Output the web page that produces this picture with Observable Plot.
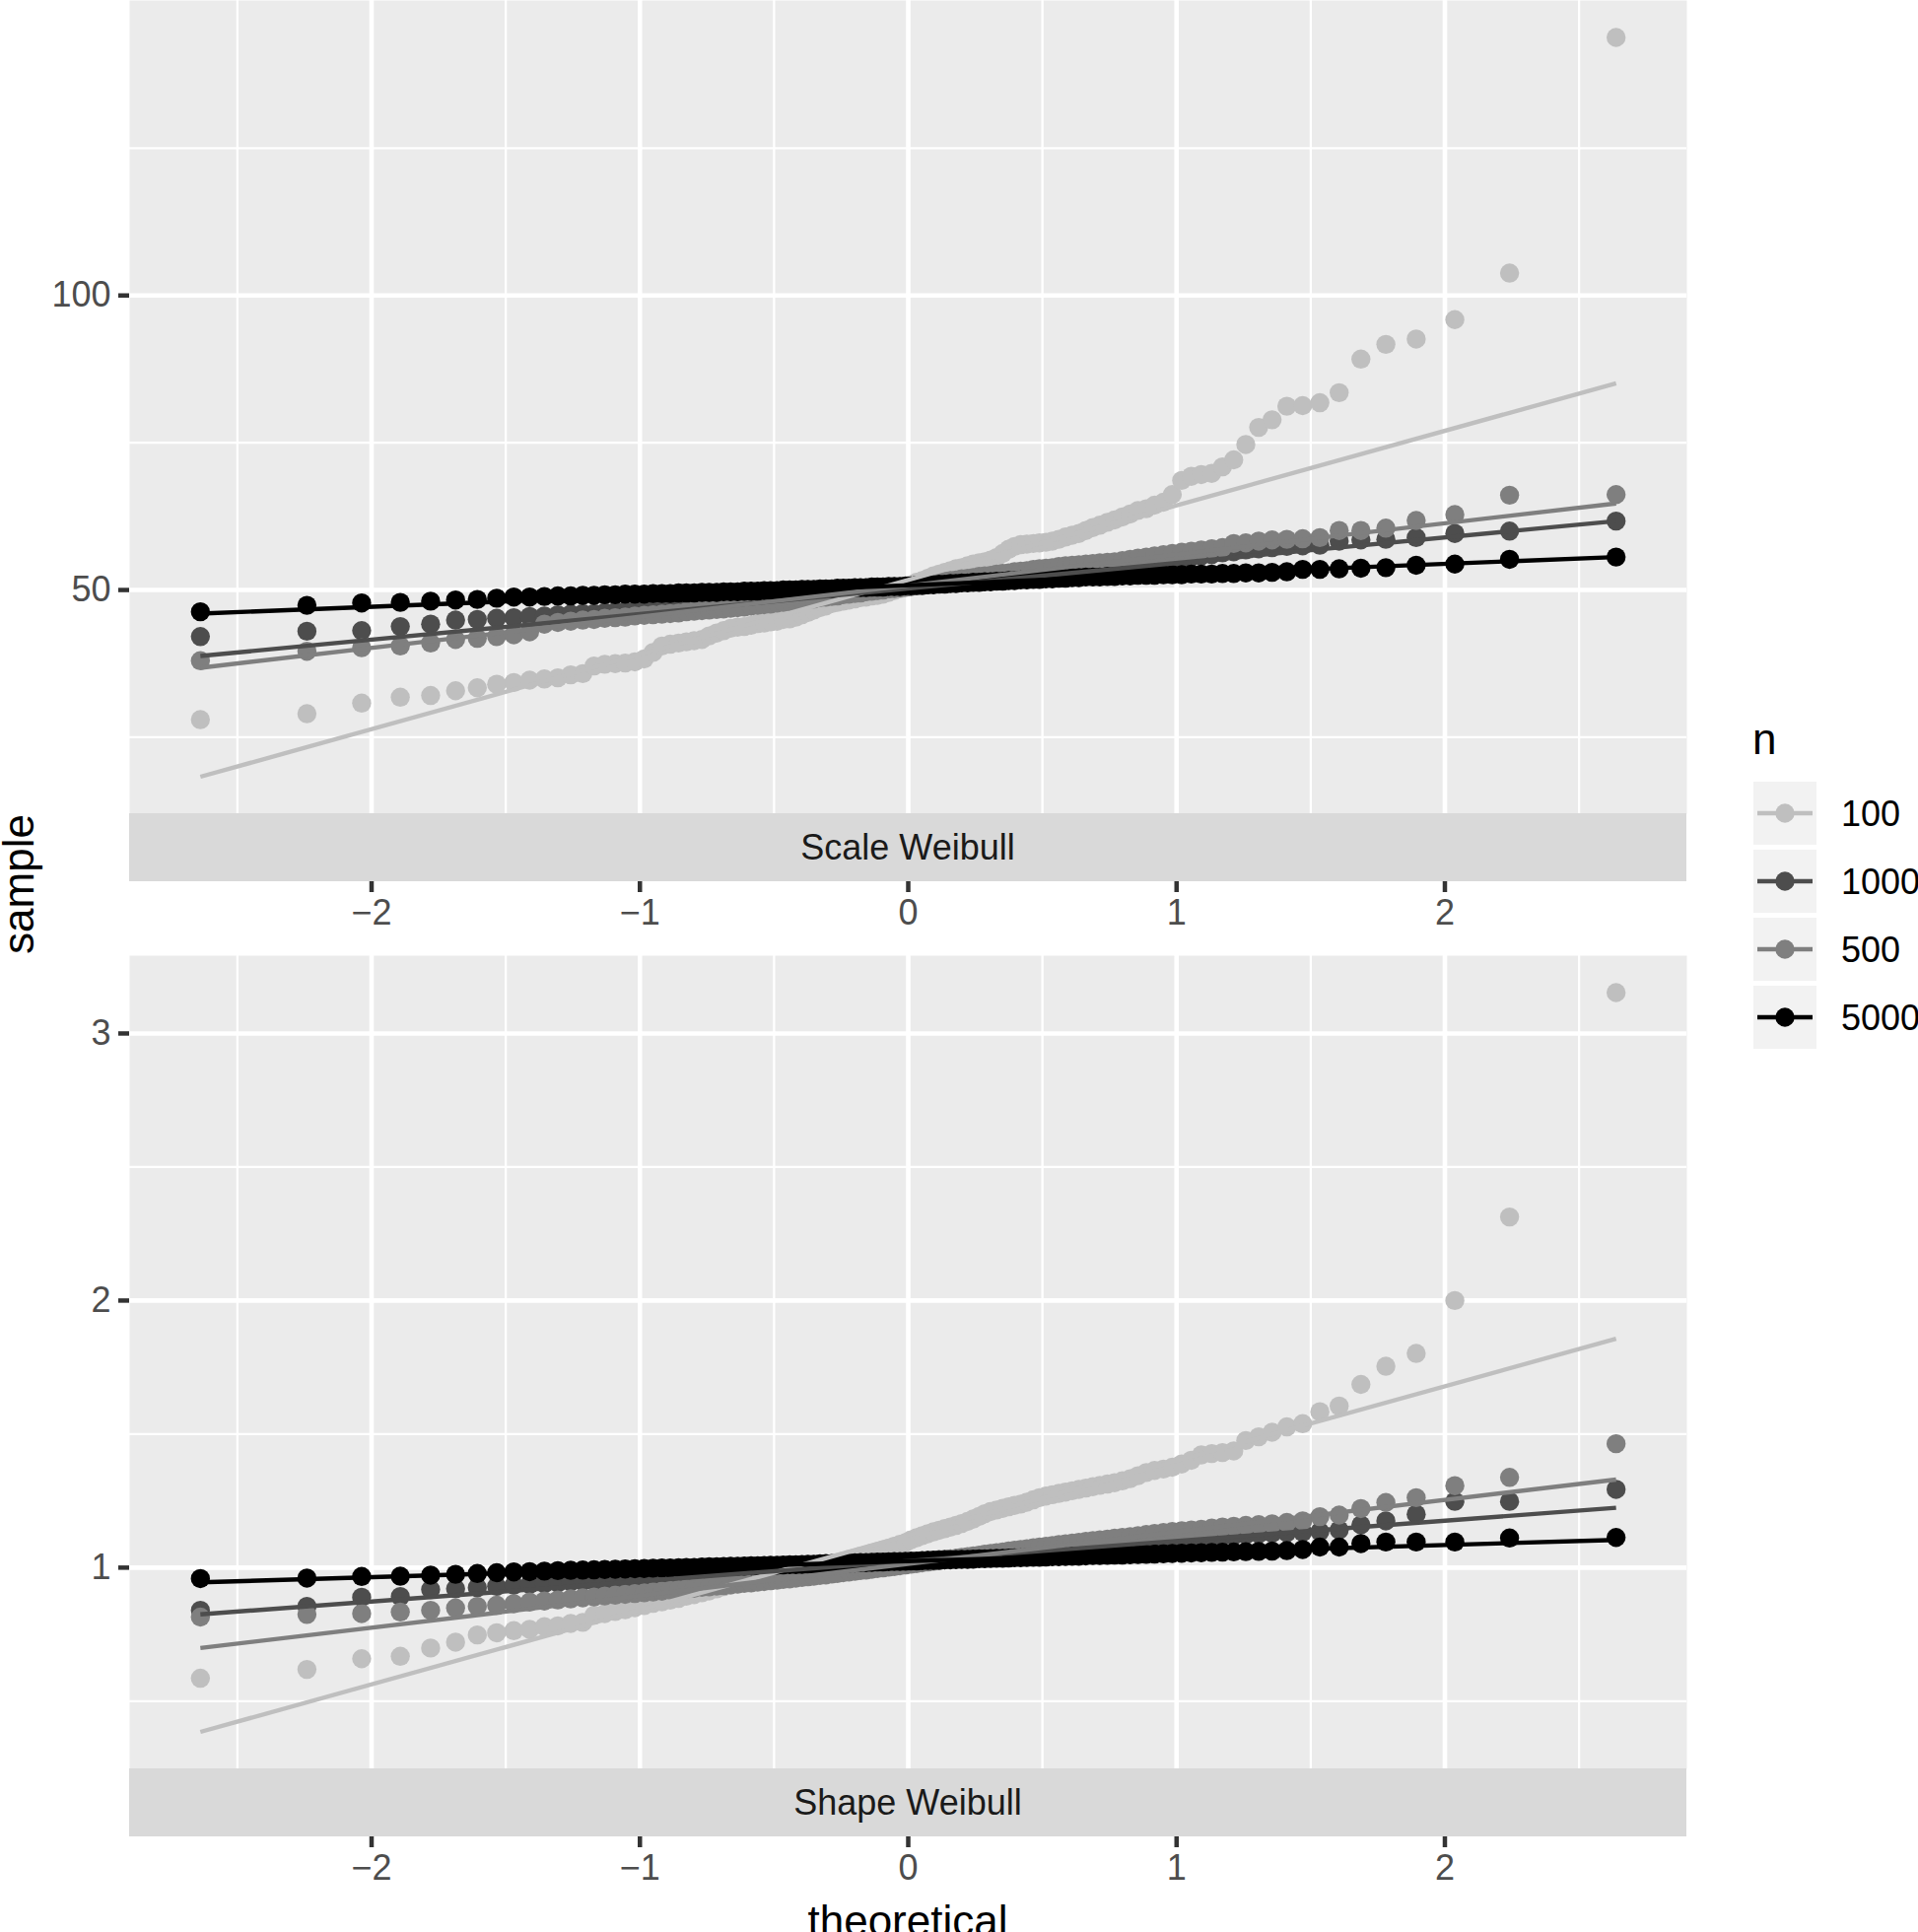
<!DOCTYPE html>
<html><head><meta charset="utf-8">
<script src="https://cdn.jsdelivr.net/npm/d3@7"></script>
<script src="https://cdn.jsdelivr.net/npm/@observablehq/plot@0.6"></script>
<style>
body{margin:0;background:#fff;}
#wrap{position:relative;width:1946px;height:1960px;overflow:hidden;background:#fff;}
.abs{position:absolute;left:0;}
</style></head><body><div id="wrap"></div>
<script>
// ---------- data ----------
const nLevels = ["100", "1000", "500", "5000"];
const nColors = ["#BFBFBF", "#4D4D4D", "#7F7F7F", "#000000"];
const panelLabels = ["Scale Weibull", "Shape Weibull"];

// theoretical normal quantiles of the 120 plotted points
const theoretical = [
-2.638,-2.241,-2.037,-1.893,-1.780,-1.687,-1.606,-1.534,-1.470,-1.411,
-1.356,-1.306,-1.258,-1.213,-1.171,-1.131,-1.092,-1.055,-1.019,-0.984,
-0.951,-0.918,-0.887,-0.856,-0.827,-0.798,-0.769,-0.742,-0.714,-0.688,
-0.662,-0.636,-0.611,-0.586,-0.561,-0.537,-0.513,-0.489,-0.466,-0.442,
-0.419,-0.396,-0.374,-0.352,-0.329,-0.307,-0.285,-0.264,-0.242,-0.221,
-0.199,-0.178,-0.157,-0.136,-0.115,-0.094,-0.073,-0.052,-0.031,-0.010,
0.010,0.031,0.052,0.073,0.094,0.115,0.136,0.157,0.178,0.199,
0.221,0.242,0.264,0.285,0.307,0.329,0.352,0.374,0.396,0.419,
0.442,0.466,0.489,0.513,0.537,0.561,0.586,0.611,0.636,0.662,
0.688,0.714,0.742,0.769,0.798,0.827,0.856,0.887,0.918,0.951,
0.984,1.019,1.055,1.092,1.131,1.171,1.213,1.258,1.306,1.356,
1.411,1.470,1.534,1.606,1.687,1.780,1.893,2.037,2.241,2.638];

// Scale Weibull panel: sorted sample values per n
const scale_n100 = [
28.0,29.0,30.8,31.8,32.1,32.9,33.4,34.0,34.3,34.7,
34.9,35.1,35.6,35.8,37.1,37.4,37.5,37.6,37.8,38.3,
39.4,40.5,40.8,41.0,41.2,41.4,41.6,42.2,42.7,43.1,
43.5,43.7,43.8,44.0,44.3,44.4,44.6,44.7,45.0,45.1,
45.4,45.8,46.2,46.6,47.0,47.3,47.7,47.9,48.1,48.3,
48.5,48.7,48.8,49.0,49.1,49.3,49.6,49.9,50.2,50.6,
50.9,51.3,51.6,52.0,52.4,52.7,53.0,53.3,53.6,53.8,
54.1,54.4,54.6,54.8,55.1,55.5,56.2,56.9,57.4,57.7,
57.8,57.9,58.0,58.1,58.3,58.6,59.0,59.3,59.6,60.1,
60.6,61.0,61.5,61.9,62.4,62.9,63.5,63.8,64.4,64.9,
66.2,68.6,69.3,69.6,69.8,70.9,72.1,74.7,77.6,78.9,
81.2,81.3,81.8,83.5,89.2,91.7,92.6,95.9,103.8,143.8];
const scale_n1000 = [
42.1,43.0,43.1,43.8,44.2,44.9,45.0,45.2,45.3,45.5,
45.6,45.8,45.9,46.0,46.0,46.2,46.3,46.4,46.5,46.6,
46.7,46.8,46.8,47.0,47.1,47.2,47.3,47.4,47.5,47.5,
47.6,47.7,47.8,47.9,48.0,48.1,48.2,48.3,48.3,48.5,
48.6,48.7,48.8,48.9,49.0,49.1,49.2,49.3,49.4,49.5,
49.6,49.7,49.8,49.9,50.0,50.1,50.2,50.3,50.4,50.5,
50.6,50.7,50.8,50.9,51.0,51.1,51.2,51.3,51.4,51.5,
51.6,51.7,51.8,51.9,52.0,52.1,52.2,52.3,52.4,52.5,
52.6,52.7,52.8,52.9,53.0,53.1,53.2,53.3,53.4,53.5,
53.6,53.7,53.8,53.9,54.0,54.2,54.4,54.6,54.8,55.0,
55.2,55.4,55.6,55.8,56.0,56.3,56.5,56.8,57.0,57.2,
57.4,57.5,57.6,58.3,58.5,58.6,58.9,59.6,60.0,61.7];
const scale_n500 = [
38.0,39.6,40.2,40.5,41.0,41.6,41.8,42.1,42.4,42.9,
44.2,44.5,44.7,44.9,45.0,45.2,45.3,45.4,45.6,45.7,
45.8,45.9,46.0,46.1,46.3,46.4,46.5,46.6,46.7,46.8,
46.9,47.0,47.1,47.3,47.4,47.5,47.6,47.8,47.9,48.0,
48.1,48.3,48.4,48.5,48.7,48.8,48.9,49.0,49.2,49.3,
49.4,49.5,49.7,49.8,49.9,50.0,50.2,50.3,50.4,50.5,
50.7,50.8,50.9,51.1,51.2,51.3,51.5,51.6,51.7,51.9,
52.0,52.1,52.3,52.4,52.5,52.7,52.8,52.9,53.1,53.2,
53.3,53.5,53.6,53.7,53.8,54.0,54.1,54.2,54.3,54.4,
54.5,54.6,54.7,54.8,55.0,55.2,55.4,55.6,55.8,56.0,
56.2,56.4,56.6,56.8,57.0,57.2,57.9,58.0,58.3,58.5,
58.6,58.7,58.9,60.1,60.1,60.5,61.8,62.8,66.1,66.2];
const scale_n5000 = [
46.3,47.4,47.8,47.9,48.1,48.3,48.4,48.6,48.8,48.8,
48.9,49.0,49.0,49.1,49.1,49.2,49.2,49.3,49.3,49.3,
49.4,49.4,49.4,49.5,49.5,49.5,49.6,49.6,49.6,49.7,
49.7,49.7,49.8,49.8,49.8,49.9,49.9,49.9,50.0,50.0,
50.0,50.1,50.1,50.1,50.2,50.2,50.2,50.3,50.3,50.3,
50.4,50.4,50.4,50.5,50.5,50.5,50.6,50.6,50.6,50.7,
50.7,50.8,50.8,50.9,50.9,51.0,51.0,51.1,51.1,51.2,
51.2,51.3,51.3,51.4,51.4,51.5,51.5,51.6,51.6,51.7,
51.7,51.8,51.8,51.9,51.9,52.0,52.0,52.1,52.1,52.2,
52.2,52.2,52.3,52.3,52.4,52.4,52.5,52.5,52.5,52.6,
52.6,52.6,52.7,52.7,52.7,52.8,52.8,52.9,52.9,53.0,
53.1,53.5,53.5,53.6,53.7,53.8,54.2,54.4,55.2,55.6];
// reference (qq) line ends at the first and last theoretical quantile, order = nLevels
const scaleLineStart = [18.3, 38.8, 36.8, 46.0];
const scaleLineEnd   = [85.1, 61.7, 64.7, 55.6];

// Shape Weibull panel
const shape_n100 = [
0.586,0.619,0.659,0.668,0.699,0.721,0.748,0.756,0.764,0.769,
0.779,0.782,0.791,0.795,0.822,0.828,0.836,0.842,0.850,0.858,
0.866,0.872,0.878,0.885,0.893,0.899,0.906,0.913,0.921,0.929,
0.935,0.940,0.945,0.949,0.953,0.957,0.961,0.966,0.971,0.976,
0.981,0.986,0.991,0.996,1.001,1.007,1.013,1.019,1.025,1.031,
1.037,1.043,1.049,1.055,1.061,1.067,1.073,1.080,1.087,1.094,
1.104,1.112,1.120,1.127,1.134,1.140,1.146,1.152,1.158,1.165,
1.173,1.182,1.192,1.202,1.210,1.216,1.222,1.228,1.233,1.238,
1.245,1.254,1.262,1.268,1.273,1.278,1.283,1.288,1.293,1.298,
1.303,1.308,1.313,1.318,1.325,1.333,1.344,1.356,1.364,1.369,
1.376,1.388,1.402,1.422,1.427,1.431,1.437,1.476,1.490,1.507,
1.527,1.539,1.584,1.605,1.686,1.754,1.802,2.000,2.313,3.153];
const shape_n1000 = [
0.840,0.855,0.889,0.892,0.918,0.921,0.925,0.930,0.934,0.937,
0.940,0.943,0.946,0.948,0.950,0.952,0.954,0.956,0.958,0.960,
0.962,0.964,0.965,0.967,0.968,0.969,0.970,0.972,0.973,0.974,
0.976,0.977,0.979,0.980,0.982,0.983,0.985,0.986,0.988,0.989,
0.991,0.992,0.994,0.995,0.997,0.998,1.000,1.001,1.003,1.004,
1.006,1.007,1.009,1.010,1.012,1.014,1.015,1.017,1.018,1.020,
1.022,1.023,1.025,1.026,1.028,1.030,1.031,1.033,1.034,1.036,
1.038,1.039,1.041,1.043,1.044,1.046,1.048,1.049,1.051,1.053,
1.054,1.056,1.058,1.060,1.062,1.064,1.066,1.068,1.070,1.072,
1.074,1.076,1.078,1.081,1.084,1.087,1.090,1.093,1.096,1.099,
1.102,1.105,1.108,1.111,1.114,1.117,1.120,1.123,1.126,1.129,
1.131,1.133,1.135,1.141,1.160,1.175,1.200,1.248,1.248,1.293];
const shape_n500 = [
0.815,0.825,0.828,0.834,0.840,0.849,0.855,0.859,0.865,0.871,
0.875,0.879,0.883,0.887,0.890,0.894,0.897,0.900,0.903,0.906,
0.909,0.912,0.915,0.918,0.921,0.923,0.926,0.928,0.931,0.933,
0.936,0.938,0.941,0.943,0.946,0.948,0.951,0.953,0.956,0.958,
0.961,0.963,0.966,0.968,0.971,0.973,0.976,0.978,0.981,0.984,
0.986,0.989,0.991,0.994,0.997,0.999,1.002,1.004,1.007,1.010,
1.013,1.015,1.018,1.021,1.024,1.026,1.029,1.032,1.035,1.038,
1.041,1.044,1.047,1.050,1.053,1.056,1.059,1.062,1.065,1.068,
1.071,1.074,1.077,1.080,1.083,1.086,1.089,1.092,1.095,1.098,
1.101,1.104,1.107,1.110,1.113,1.116,1.120,1.124,1.128,1.132,
1.135,1.138,1.141,1.144,1.148,1.152,1.155,1.158,1.161,1.164,
1.169,1.175,1.191,1.197,1.221,1.244,1.262,1.307,1.338,1.464];
const shape_n5000 = [
0.959,0.961,0.967,0.968,0.972,0.975,0.978,0.981,0.984,0.985,
0.987,0.989,0.990,0.991,0.992,0.993,0.994,0.995,0.996,0.997,
0.998,0.999,0.999,1.000,1.001,1.001,1.002,1.003,1.003,1.004,
1.005,1.005,1.006,1.007,1.007,1.008,1.009,1.009,1.010,1.011,
1.011,1.012,1.013,1.013,1.014,1.015,1.015,1.016,1.017,1.017,
1.018,1.019,1.019,1.020,1.021,1.021,1.022,1.023,1.023,1.024,
1.025,1.025,1.026,1.027,1.027,1.028,1.029,1.029,1.030,1.031,
1.031,1.032,1.033,1.033,1.034,1.035,1.035,1.036,1.037,1.037,
1.038,1.039,1.039,1.040,1.041,1.041,1.042,1.043,1.043,1.044,
1.045,1.045,1.046,1.047,1.047,1.048,1.049,1.050,1.051,1.052,
1.053,1.054,1.055,1.056,1.057,1.058,1.059,1.060,1.061,1.062,
1.064,1.068,1.077,1.077,1.090,1.096,1.096,1.096,1.111,1.113];
const shapeLineStart = [0.385, 0.825, 0.699, 0.945];
const shapeLineEnd   = [1.857, 1.224, 1.330, 1.104];

// axis ticks
const xMajor = [-2, -1, 0, 1, 2];
const xMinor = [-2.5, -1.5, -0.5, 0.5, 1.5, 2.5];
const scaleYMajor = [50, 100];
const scaleYMinor = [25, 75, 125];
const shapeYMajor = [1, 2, 3];
const shapeYMinor = [0.5, 1.5, 2.5];

// ---------- drawing ----------
const FONT = '"Liberation Sans", Arial, Helvetica, sans-serif';
const W = 1720, ML = 131, MR = 9, PANEL_H = 825, STRIP_H = 69;
const fmt = d => (d < 0 ? "\u2212" + Math.abs(d) : String(d));

function panel(series, lineStart, lineEnd, yMajor, yMinor, stripLabel, height, top) {
  const pts = series.flatMap((vals, k) => vals.map((v, i) => ({x: theoretical[i], y: v, n: nLevels[k]})));
  const xFirst = theoretical[0], xLast = theoretical[theoretical.length - 1];
  const lines = nLevels.flatMap((n, k) => [{x: xFirst, y: lineStart[k], n}, {x: xLast, y: lineEnd[k], n}]);
  const [y0, y1] = d3.extent(pts.concat(lines), d => d.y);
  const py = 0.05 * (y1 - y0);
  const [x0, x1] = d3.extent(theoretical);
  const px = 0.05 * (x1 - x0);
  const plot = Plot.plot({
    width: W, height,
    marginLeft: ML, marginRight: MR, marginTop: 0, marginBottom: height - PANEL_H,
    style: {background: "transparent", fontFamily: FONT, overflow: "visible"},
    x: {domain: [x0 - px, x1 + px]},
    y: {domain: [y0 - py, y1 + py]},
    color: {domain: nLevels, range: nColors},
    marks: [
      Plot.frame({fill: "#EBEBEB", stroke: "none"}),
      Plot.gridX(xMinor, {stroke: "#FFFFFF", strokeOpacity: 1, strokeWidth: 2.3}),
      Plot.gridY(yMinor, {stroke: "#FFFFFF", strokeOpacity: 1, strokeWidth: 2.3}),
      Plot.gridX(xMajor, {stroke: "#FFFFFF", strokeOpacity: 1, strokeWidth: 4.6}),
      Plot.gridY(yMajor, {stroke: "#FFFFFF", strokeOpacity: 1, strokeWidth: 4.6}),
      Plot.dot(pts, {x: "x", y: "y", fill: "n", r: 9.7}),
      Plot.line(lines, {x: "x", y: "y", z: "n", stroke: "n", strokeWidth: 4.4, strokeLinecap: "butt"}),
      Plot.axisY(yMajor, {anchor: "left", label: null, tickSize: 11, tickPadding: 8, fontSize: 36,
        stroke: "#333333", strokeWidth: 4.5, fill: "#4D4D4D", tickFormat: fmt}),
      Plot.axisX(xMajor, {anchor: "bottom", label: null, dy: STRIP_H, tickSize: 11, tickPadding: 7, fontSize: 36,
        stroke: "#333333", strokeWidth: 4.5, fill: "#4D4D4D", tickFormat: fmt})
    ]
  });
  const svg = d3.select(plot);
  const xr = plot.scale("x").range;
  const yBottom = plot.scale("y").range[0];
  svg.append("rect").attr("x", xr[0]).attr("y", yBottom).attr("width", xr[1] - xr[0])
    .attr("height", STRIP_H).attr("fill", "#D9D9D9");
  svg.append("text").attr("x", (xr[0] + xr[1]) / 2).attr("y", yBottom + STRIP_H / 2)
    .attr("text-anchor", "middle").attr("dominant-baseline", "central")
    .attr("font-family", FONT).attr("font-size", 36).attr("fill", "#1A1A1A").text(stripLabel);
  const div = document.createElement("div");
  div.className = "abs";
  div.style.top = top + "px";
  div.appendChild(plot);
  document.getElementById("wrap").appendChild(div);
  return {plot, svg, xr, yBottom};
}

panel([scale_n100, scale_n1000, scale_n500, scale_n5000], scaleLineStart, scaleLineEnd,
      scaleYMajor, scaleYMinor, panelLabels[0], 969, 0);
const bottom = panel([shape_n100, shape_n1000, shape_n500, shape_n5000], shapeLineStart, shapeLineEnd,
      shapeYMajor, shapeYMinor, panelLabels[1], 991, 969);
// x axis title
bottom.svg.append("text").attr("x", (bottom.xr[0] + bottom.xr[1]) / 2).attr("y", 995)
  .attr("text-anchor", "middle").attr("font-family", FONT).attr("font-size", 44).attr("fill", "#000").text("theoretical");

// overlay: y title + legend
const over = d3.select("#wrap").append("svg").attr("class", "abs").style("top", "0px")
  .attr("width", 1946).attr("height", 1960).style("pointer-events", "none");
over.append("text").attr("transform", "translate(34,897) rotate(-90)").attr("text-anchor", "middle")
  .attr("font-family", FONT).attr("font-size", 44).attr("fill", "#000").text("sample");
const lg = over.append("g").attr("font-family", FONT);
lg.append("text").attr("x", 1778).attr("y", 765).attr("font-size", 44).attr("fill", "#000").text("n");
nLevels.forEach((n, k) => {
  const y0 = 793 + k * 69;
  lg.append("rect").attr("x", 1779).attr("y", y0).attr("width", 64).attr("height", 64).attr("fill", "#F2F2F2");
  lg.append("line").attr("x1", 1783).attr("x2", 1839).attr("y1", y0 + 32).attr("y2", y0 + 32)
    .attr("stroke", nColors[k]).attr("stroke-width", 4.4);
  lg.append("circle").attr("cx", 1811).attr("cy", y0 + 32).attr("r", 9.7).attr("fill", nColors[k]);
  lg.append("text").attr("x", 1868).attr("y", y0 + 32).attr("dominant-baseline", "central")
    .attr("font-size", 36).attr("fill", "#000").text(n);
});
</script></body></html>
